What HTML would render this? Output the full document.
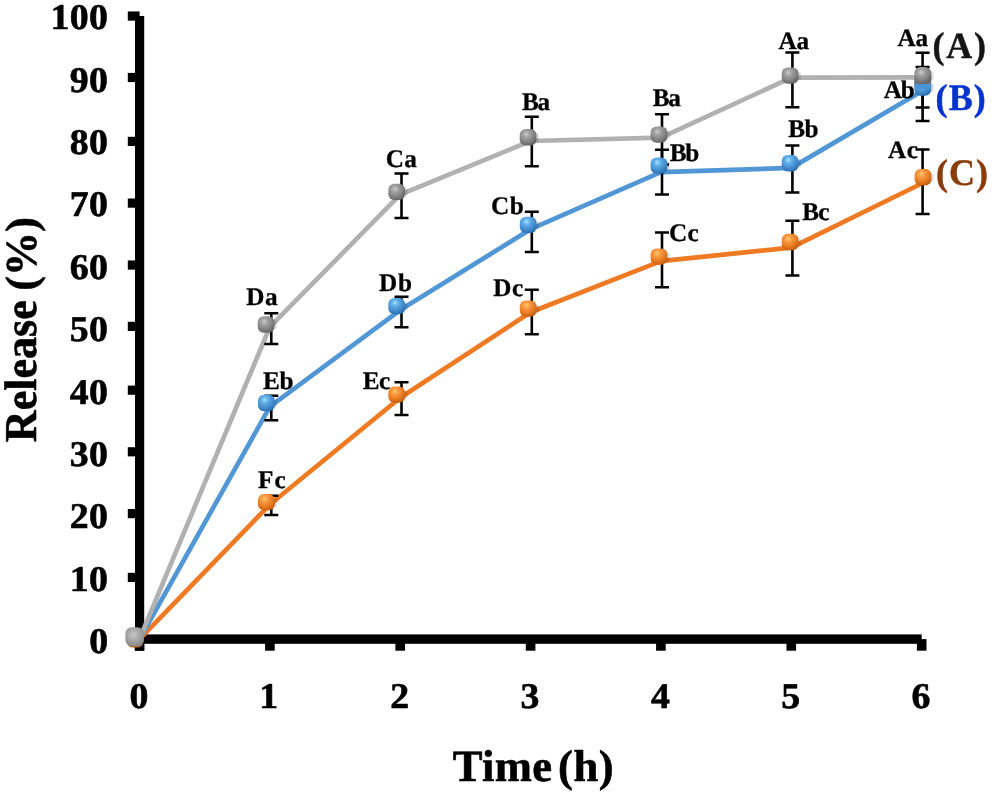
<!DOCTYPE html>
<html><head><meta charset="utf-8"><title>Release chart</title>
<style>
html,body{margin:0;padding:0;background:#fff;}
body{width:992px;height:794px;overflow:hidden;}
svg{display:block;will-change:transform;transform:translateZ(0);}
text{font-family:"Liberation Serif",serif;font-weight:bold;text-rendering:geometricPrecision;stroke-linejoin:round;}
</style></head><body>
<svg width="992" height="794" viewBox="0 0 992 794">
<defs>
<radialGradient id="gG" cx="0.40" cy="0.32" r="0.70"><stop offset="0" stop-color="#cdcdcd"/><stop offset="0.28" stop-color="#a2a2a2"/><stop offset="0.65" stop-color="#858585"/><stop offset="1" stop-color="#646464"/></radialGradient>
<radialGradient id="gB" cx="0.40" cy="0.30" r="0.70"><stop offset="0" stop-color="#a4e6ff"/><stop offset="0.28" stop-color="#62b0ea"/><stop offset="0.65" stop-color="#4790d2"/><stop offset="1" stop-color="#2c72b2"/></radialGradient>
<radialGradient id="gO" cx="0.40" cy="0.30" r="0.70"><stop offset="0" stop-color="#ffcc70"/><stop offset="0.28" stop-color="#f99a42"/><stop offset="0.65" stop-color="#ea7e26"/><stop offset="1" stop-color="#c9600f"/></radialGradient>
<filter id="soft" x="-5%" y="-5%" width="110%" height="110%"><feGaussianBlur stdDeviation="0.55"/></filter>
<radialGradient id="gG0" cx="0.45" cy="0.4" r="0.65"><stop offset="0" stop-color="#c6c6c6"/><stop offset="0.5" stop-color="#a6a6a6"/><stop offset="1" stop-color="#868686"/></radialGradient>
</defs>
<rect width="992" height="794" fill="#ffffff"/>

<g fill="#000">
<rect x="135.0" y="16.0" width="9.2" height="634.7"/>
<rect x="127.7" y="634.4" width="794.0" height="9.4"/>
<rect x="127.8" y="634.50" width="11.8" height="9.2"/>
<rect x="127.8" y="572.80" width="11.8" height="9.2"/>
<rect x="127.8" y="509.00" width="11.8" height="9.2"/>
<rect x="127.8" y="447.20" width="11.8" height="9.2"/>
<rect x="127.8" y="385.60" width="11.8" height="9.2"/>
<rect x="127.8" y="321.80" width="11.8" height="9.2"/>
<rect x="127.8" y="260.45" width="11.8" height="9.2"/>
<rect x="127.8" y="198.50" width="11.8" height="9.2"/>
<rect x="127.8" y="136.80" width="11.8" height="9.2"/>
<rect x="127.8" y="72.90" width="11.8" height="9.2"/>
<rect x="127.8" y="11.45" width="11.8" height="9.2"/>
<rect x="134.7" y="639.1" width="9.6" height="11.6"/>
<rect x="265.1" y="639.1" width="9.6" height="11.6"/>
<rect x="395.4" y="639.1" width="9.6" height="11.6"/>
<rect x="525.8" y="639.1" width="9.6" height="11.6"/>
<rect x="656.1" y="639.1" width="9.6" height="11.6"/>
<rect x="786.5" y="639.1" width="9.6" height="11.6"/>
<rect x="916.9" y="639.1" width="9.6" height="11.6"/>
</g>
<g fill="none" stroke-width="4.7" stroke-linejoin="round" stroke-linecap="round">
<polyline stroke="#ee7a24" points="139.5,639.1 269.9,504.5 400.2,397.8 530.6,312.2 660.9,261.1 791.3,247.6 921.7,183.5"/>
<polyline stroke="#5197d6" points="139.5,639.1 269.9,406.7 400.2,310.1 530.6,229.2 660.9,172.1 791.3,167.9 921.7,91.2"/>
<polyline stroke="#b1b1b1" points="139.5,639.1 269.9,326.8 400.2,194.7 530.6,141.0 660.9,137.7 791.3,77.7 921.7,77.4"/>
</g>
<g stroke="#000" fill="none">
<path stroke-width="2.6" d="M271.3 495.8V514.9"/>
<path stroke-width="2.5" d="M264.3 495.8h14M264.3 514.9h14"/>
<path stroke-width="2.6" d="M401.5 382.3V415.0"/>
<path stroke-width="2.5" d="M394.5 382.3h14M394.5 415.0h14"/>
<path stroke-width="2.6" d="M531.8 289.7V334.3"/>
<path stroke-width="2.5" d="M524.8 289.7h14M524.8 334.3h14"/>
<path stroke-width="2.6" d="M662.0 232.5V287.2"/>
<path stroke-width="2.5" d="M655.0 232.5h14M655.0 287.2h14"/>
<path stroke-width="2.6" d="M792.4 220.8V275.6"/>
<path stroke-width="2.5" d="M785.4 220.8h14M785.4 275.6h14"/>
<path stroke-width="2.6" d="M922.6 149.6V213.9"/>
<path stroke-width="2.5" d="M915.6 149.6h14M915.6 213.9h14"/>
<path stroke-width="2.6" d="M271.3 395.8V420.3"/>
<path stroke-width="2.5" d="M264.3 395.8h14M264.3 420.3h14"/>
<path stroke-width="2.6" d="M401.5 296.8V327.3"/>
<path stroke-width="2.5" d="M394.5 296.8h14M394.5 327.3h14"/>
<path stroke-width="2.6" d="M531.8 211.7V251.9"/>
<path stroke-width="2.5" d="M524.8 211.7h14M524.8 251.9h14"/>
<path stroke-width="2.6" d="M662.0 149.7V194.5"/>
<path stroke-width="2.5" d="M655.0 149.7h14M655.0 194.5h14"/>
<path stroke-width="2.6" d="M792.4 145.5V192.4"/>
<path stroke-width="2.5" d="M785.4 145.5h14M785.4 192.4h14"/>
<path stroke-width="2.6" d="M922.6 66.9V120.9"/>
<path stroke-width="2.5" d="M915.6 66.9h14M915.6 120.9h14"/>
<path stroke-width="2.6" d="M271.3 313.3V344.1"/>
<path stroke-width="2.5" d="M264.3 313.3h14M264.3 344.1h14"/>
<path stroke-width="2.6" d="M401.5 173.5V218.1"/>
<path stroke-width="2.5" d="M394.5 173.5h14M394.5 218.1h14"/>
<path stroke-width="2.6" d="M531.8 116.8V166.3"/>
<path stroke-width="2.5" d="M524.8 116.8h14M524.8 166.3h14"/>
<path stroke-width="2.6" d="M662.0 114.3V164.5"/>
<path stroke-width="2.5" d="M655.0 114.3h14M655.0 164.5h14"/>
<path stroke-width="2.6" d="M792.4 52.5V107.3"/>
<path stroke-width="2.5" d="M785.4 52.5h14M785.4 107.3h14"/>
<path stroke-width="2.6" d="M922.6 52.8V107.5"/>
<path stroke-width="2.5" d="M915.6 52.8h14M915.6 107.5h14"/>
</g>
<g filter="url(#soft)">
<rect x="273.0" y="497.9" width="4.2" height="9" rx="2" fill="#000" opacity="0.13"/>
<rect x="258.0" y="493.9" width="16.8" height="16.4" rx="6.0" fill="url(#gO)"/>
<rect x="403.3" y="390.4" width="4.2" height="9" rx="2" fill="#000" opacity="0.13"/>
<rect x="388.3" y="386.4" width="16.8" height="16.4" rx="6.0" fill="url(#gO)"/>
<rect x="534.8" y="304.4" width="4.2" height="9" rx="2" fill="#000" opacity="0.13"/>
<rect x="519.8" y="300.4" width="16.8" height="16.4" rx="6.0" fill="url(#gO)"/>
<rect x="665.6" y="252.4" width="4.2" height="9" rx="2" fill="#000" opacity="0.13"/>
<rect x="650.6" y="248.4" width="16.8" height="16.4" rx="6.0" fill="url(#gO)"/>
<rect x="796.7" y="237.8" width="4.2" height="9" rx="2" fill="#000" opacity="0.13"/>
<rect x="781.7" y="233.8" width="16.8" height="16.4" rx="6.0" fill="url(#gO)"/>
<rect x="929.6" y="173.0" width="4.2" height="9" rx="2" fill="#000" opacity="0.13"/>
<rect x="914.6" y="169.0" width="16.8" height="16.4" rx="6.0" fill="url(#gO)"/>
<rect x="273.0" y="398.8" width="4.2" height="9" rx="2" fill="#000" opacity="0.13"/>
<rect x="258.0" y="394.8" width="16.8" height="16.4" rx="6.0" fill="url(#gB)"/>
<rect x="403.3" y="301.9" width="4.2" height="9" rx="2" fill="#000" opacity="0.13"/>
<rect x="388.3" y="297.9" width="16.8" height="16.4" rx="6.0" fill="url(#gB)"/>
<rect x="534.8" y="220.7" width="4.2" height="9" rx="2" fill="#000" opacity="0.13"/>
<rect x="519.8" y="216.7" width="16.8" height="16.4" rx="6.0" fill="url(#gB)"/>
<rect x="665.6" y="161.4" width="4.2" height="9" rx="2" fill="#000" opacity="0.13"/>
<rect x="650.6" y="157.4" width="16.8" height="16.4" rx="6.0" fill="url(#gB)"/>
<rect x="796.7" y="159.1" width="4.2" height="9" rx="2" fill="#000" opacity="0.13"/>
<rect x="781.7" y="155.1" width="16.8" height="16.4" rx="6.0" fill="url(#gB)"/>
<rect x="929.4" y="83.4" width="4.2" height="9" rx="2" fill="#000" opacity="0.13"/>
<rect x="914.4" y="79.4" width="16.8" height="16.4" rx="6.0" fill="url(#gB)"/>
<rect x="914.4" y="76" width="16.8" height="13" fill="#4a93d2"/>
<rect x="914.4" y="76" width="16.8" height="7.9" fill="#747474"/>
<rect x="272.7" y="320.3" width="4.2" height="9" rx="2" fill="#000" opacity="0.13"/>
<rect x="257.7" y="316.3" width="16.8" height="16.4" rx="6.0" fill="url(#gG)"/>
<rect x="403.3" y="187.7" width="4.2" height="9" rx="2" fill="#000" opacity="0.13"/>
<rect x="388.3" y="183.7" width="16.8" height="16.4" rx="6.0" fill="url(#gG)"/>
<rect x="534.7" y="133.0" width="4.2" height="9" rx="2" fill="#000" opacity="0.13"/>
<rect x="519.7" y="129.0" width="16.8" height="16.4" rx="6.0" fill="url(#gG)"/>
<rect x="665.6" y="130.4" width="4.2" height="9" rx="2" fill="#000" opacity="0.13"/>
<rect x="650.6" y="126.4" width="16.8" height="16.4" rx="6.0" fill="url(#gG)"/>
<rect x="796.7" y="71.4" width="4.2" height="9" rx="2" fill="#000" opacity="0.13"/>
<rect x="781.7" y="67.4" width="16.8" height="16.4" rx="6.0" fill="url(#gG)"/>
<rect x="929.4" y="71.1" width="4.2" height="9" rx="2" fill="#000" opacity="0.13"/>
<rect x="914.4" y="67.1" width="16.8" height="16.4" rx="6.0" fill="url(#gG)"/>
<rect x="126.6" y="630.4" width="17.0" height="17.2" rx="6.5" fill="#b5651f"/>
<rect x="125.4" y="627.2" width="18.6" height="19.0" rx="6.5" fill="url(#gG0)"/>
</g>
<g font-size="25.2" fill="#000" stroke="#000" stroke-width="0.30">
<text x="246.15" y="305.2" letter-spacing="0.65">Da</text>
<text x="263.05" y="388.7" letter-spacing="-0.45">Eb</text>
<text x="258.05" y="488.2" letter-spacing="0.95">Fc</text>
<text x="385.80" y="167.4" letter-spacing="0.20">Ca</text>
<text x="378.95" y="291.3" letter-spacing="0.80">Db</text>
<text x="362.65" y="388.6" letter-spacing="-0.35">Ec</text>
<text x="522.05" y="110.2" letter-spacing="-1.30">Ba</text>
<text x="490.90" y="214.2" letter-spacing="0.75">Cb</text>
<text x="493.15" y="296.1" letter-spacing="0.75">Dc</text>
<text x="652.65" y="106.3" letter-spacing="-1.30">Ba</text>
<text x="669.65" y="160.7" letter-spacing="-1.30">Bb</text>
<text x="668.90" y="241.1" letter-spacing="0.40">Cc</text>
<text x="778.40" y="49.0" letter-spacing="0.00">Aa</text>
<text x="788.25" y="136.8" letter-spacing="-0.55">Bb</text>
<text x="802.35" y="219.6" letter-spacing="-0.85">Bc</text>
<text x="897.50" y="46.2" letter-spacing="-0.20">Aa</text>
<text x="883.70" y="97.9" letter-spacing="-1.05">Ab</text>
<text x="888.00" y="157.5" letter-spacing="0.50">Ac</text>
</g>
<g font-size="37.3" stroke-width="0.45">
<text transform="translate(932.55 58.3) scale(0.965 1)" fill="#151515" stroke="#151515" letter-spacing="1.79">(A)</text>
<text transform="translate(935.55 110.1) scale(0.965 1)" fill="#0433d0" stroke="#0433d0" letter-spacing="1.18">(B)</text>
<text transform="translate(935.95 185.2) scale(0.965 1)" fill="#8a3c0c" stroke="#8a3c0c" letter-spacing="1.12">(C)</text>
</g>
<g font-size="36.2" fill="#000" stroke="#000" stroke-width="0.60" letter-spacing="0.35">
<text transform="translate(89.14 653.20) scale(1.045 1)">0</text>
<text transform="translate(69.70 590.79) scale(1.045 1)">10</text>
<text transform="translate(69.70 528.38) scale(1.045 1)">20</text>
<text transform="translate(69.70 465.97) scale(1.045 1)">30</text>
<text transform="translate(69.70 403.56) scale(1.045 1)">40</text>
<text transform="translate(69.70 341.15) scale(1.045 1)">50</text>
<text transform="translate(69.70 278.74) scale(1.045 1)">60</text>
<text transform="translate(69.70 216.33) scale(1.045 1)">70</text>
<text transform="translate(69.70 153.92) scale(1.045 1)">80</text>
<text transform="translate(69.70 91.51) scale(1.045 1)">90</text>
<text transform="translate(50.52 29.10) scale(1.045 1)">100</text>
<text transform="translate(129.50 707.9) scale(1.045 1)">0</text>
<text transform="translate(259.33 707.9) scale(1.045 1)">1</text>
<text transform="translate(390.22 707.9) scale(1.045 1)">2</text>
<text transform="translate(520.44 707.9) scale(1.045 1)">3</text>
<text transform="translate(650.94 707.9) scale(1.045 1)">4</text>
<text transform="translate(781.16 707.9) scale(1.045 1)">5</text>
<text transform="translate(911.52 707.9) scale(1.045 1)">6</text>
</g>
<g fill="#000" stroke="#000" stroke-width="0.60">
<text font-size="44.6" x="452.70" y="780.8" letter-spacing="0.33">Time</text>
<text font-size="44.6" x="557.95" y="780.8" letter-spacing="0.60">(h)</text>
<text font-size="45.5" transform="translate(35.7 442.18) rotate(-90) scale(0.9687 1)">Release</text>
<text font-size="44.2" transform="translate(35.7 290.75) rotate(-90)" letter-spacing="0.08">(%)</text>
</g>
</svg></body></html>
